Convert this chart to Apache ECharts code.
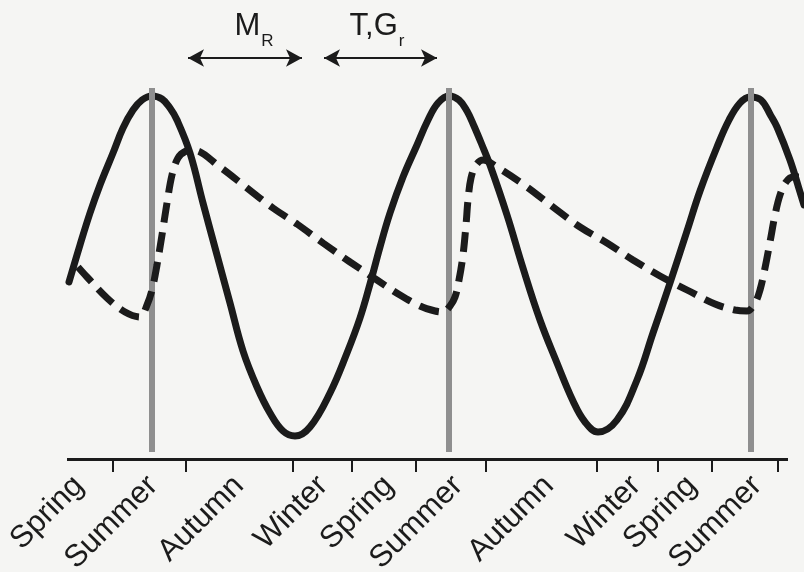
<!DOCTYPE html>
<html>
<head>
<meta charset="utf-8">
<script src="https://cdn.jsdelivr.net/npm/echarts@6/dist/echarts.min.js"></script>
<style>
  html, body { margin: 0; padding: 0; background: #f5f5f3; }
  #chart { width: 804px; height: 572px; }
</style>
</head>
<body>
<div id="chart"></div>
<script>
// x: months from the left end of the time axis, y: relative level (0-110)
const seasonLabels = ['Spring', 'Summer', 'Autumn', 'Winter', 'Spring', 'Summer', 'Autumn', 'Winter', 'Spring', 'Summer'];
const seasonLabelPos = [0.48, 3.44, 6.88, 10.24, 12.88, 15.64, 19.28, 22.76, 25.0, 27.6];
const seasonTicks = [1.84, 4.76, 9.04, 11.4, 13.96, 16.76, 21.2, 23.64, 25.8, 28.44];
const timeAxisEnd = 28.84;   // where the drawn time axis stops
const viewEnd = 29.48;       // right edge of the plotting area

// midsummer markers
const summerPeaks = [3.4, 15.28, 27.36];
const summerMarkLow = 1.75;
const summerMarkHigh = 92.75;

// solid curve
const solidCurve = [
  [0.08, 44.25], [0.52, 53.5], [0.92, 61.5], [1.32, 68.5], [1.84, 76.5], [2.24, 82.75],
  [2.64, 87.25], [3.0, 89.75], [3.4, 90.75], [3.8, 90.0], [4.12, 87.75], [4.4, 84.75],
  [4.92, 76.5], [5.44, 64.0], [6.0, 51.0], [6.52, 39.0], [7.04, 27.0], [7.6, 18.0],
  [8.12, 11.5], [8.64, 7.0], [9.12, 5.75], [9.72, 8.0], [10.52, 16.5], [11.2, 26.5],
  [11.72, 35.25], [12.12, 43.75], [12.52, 53.0], [12.92, 61.5], [13.44, 70.5], [14.0, 78.5],
  [14.44, 84.75], [14.84, 89.0], [15.28, 90.75], [15.68, 89.75], [16.0, 87.0], [16.28, 83.25],
  [16.6, 78.5], [16.92, 73.5], [17.6, 61.0], [18.24, 47.75], [18.92, 34.75], [19.6, 24.0],
  [20.24, 14.5], [20.72, 9.25], [21.24, 6.75], [22.0, 9.75], [22.8, 19.75], [23.44, 31.5],
  [24.12, 44.0], [24.8, 57.0], [25.32, 67.0], [26.0, 78.0], [26.48, 84.75], [26.92, 89.0],
  [27.32, 90.5], [27.76, 89.75], [28.16, 85.75], [28.4, 83.0], [28.92, 74.75], [29.32, 66.75],
  [29.48, 63.5]
];

// dashed curve
const dashedCurve = [
  [0.44, 48.0], [0.8, 45.5], [1.6, 40.25], [2.32, 36.75], [2.92, 35.5], [3.2, 38.5],
  [3.4, 42.25], [3.6, 48.5], [3.8, 56.0], [4.0, 64.0], [4.2, 71.0], [4.44, 75.25],
  [4.76, 77.0], [5.04, 77.25], [6.12, 73.0], [7.2, 67.75], [8.24, 62.75], [9.2, 58.75],
  [10.24, 54.0], [11.32, 49.25], [12.4, 44.75], [13.32, 41.0], [14.12, 38.25], [14.72, 37.0],
  [15.04, 36.75], [15.32, 38.25], [15.52, 40.5], [15.68, 44.75], [15.84, 51.0], [15.96, 58.5],
  [16.04, 64.75], [16.16, 70.25], [16.36, 73.5], [16.64, 74.75], [17.2, 73.0], [18.4, 68.0],
  [19.44, 63.0], [20.52, 58.0], [21.6, 54.0], [22.64, 49.75], [23.72, 45.75], [24.8, 42.25],
  [25.92, 38.75], [26.72, 37.25], [27.2, 37.0], [27.52, 39.0], [27.72, 42.25], [27.92, 47.75],
  [28.12, 54.25], [28.32, 61.0], [28.52, 66.0], [28.76, 69.25], [29.04, 70.5], [29.28, 70.5]
];

// period annotations
const spanNames = ['M_R', 'T,G_r'];
const spanRanges = [[4.84, 9.4], [10.28, 14.8]];
const spanLevel = 100.25;
const spanNamePos = [[7.48, 108.25], [12.4, 108.25]];

const FONT = 'Liberation Sans, Arial, Helvetica, sans-serif';
const INK = '#1b1b1b';

function nearestIndex(list, v) {
  let best = 0;
  for (let i = 1; i < list.length; i++) {
    if (Math.abs(list[i] - v) < Math.abs(list[best] - v)) best = i;
  }
  return best;
}

function richName(name) {
  const parts = name.split('_');
  return '{b|' + parts[0] + '}{s|' + parts[1] + '}';
}

const chart = echarts.init(document.getElementById('chart'), null, { renderer: 'canvas' });

chart.setOption({
  backgroundColor: '#f5f5f3',
  animation: false,
  grid: { left: 67, right: 0, top: 19, bottom: 113, outerBoundsMode: 'none', containLabel: false },
  xAxis: {
    type: 'value',
    min: 0,
    max: viewEnd,
    splitLine: { show: false },
    axisLine: { show: false },
    axisTick: {
      show: true,
      customValues: seasonTicks,
      length: 13,
      lineStyle: { color: INK, width: 2 }
    },
    axisLabel: {
      customValues: seasonLabelPos,
      rotate: 45,
      margin: 22,
      fontSize: 31,
      fontFamily: FONT,
      color: INK,
      formatter: function (value) {
        return seasonLabels[nearestIndex(seasonLabelPos, value)];
      }
    }
  },
  yAxis: { type: 'value', min: 0, max: 110, show: false },
  series: [
    {
      name: 'solid',
      type: 'line',
      z: 2,
      smooth: 0.4,
      showSymbol: false,
      symbol: 'none',
      data: solidCurve,
      lineStyle: { color: INK, width: 7, cap: 'round', join: 'round' }
    },
    {
      name: 'midsummer',
      type: 'line',
      data: [],
      markLine: {
        silent: true,
        z: 5,
        symbol: 'none',
        label: { show: false },
        lineStyle: { color: '#8f8f8f', width: 6, type: 'solid' },
        emphasis: { disabled: true },
        data: summerPeaks.map(function (t) {
          return [{ coord: [t, summerMarkLow] }, { coord: [t, summerMarkHigh] }];
        })
      }
    },
    {
      name: 'time axis',
      type: 'line',
      data: [],
      markLine: {
        silent: true,
        z: 5,
        symbol: 'none',
        label: { show: false },
        lineStyle: { color: INK, width: 3, type: 'solid' },
        emphasis: { disabled: true },
        data: [[{ coord: [0, 0] }, { coord: [timeAxisEnd, 0] }]]
      }
    },
    {
      name: 'dashed',
      type: 'line',
      z: 6,
      smooth: 0.35,
      showSymbol: false,
      symbol: 'none',
      data: dashedCurve,
      lineStyle: { color: INK, width: 7, type: [20, 10], cap: 'butt' }
    },
    {
      name: 'spans',
      type: 'scatter',
      z: 7,
      symbolSize: 0,
      silent: true,
      itemStyle: { opacity: 1 },
      data: spanNamePos,
      label: {
        show: true,
        position: 'inside',
        color: INK,
        opacity: 1,
        fontFamily: FONT,
        formatter: function (p) { return richName(spanNames[p.dataIndex]); },
        rich: {
          b: { fontSize: 31, lineHeight: 34, fontFamily: FONT, color: INK },
          s: { fontSize: 17, lineHeight: 17, padding: [30, 0, 0, 1], fontFamily: FONT, color: INK }
        }
      },
      markLine: {
        silent: true,
        z: 7,
        symbol: ['arrow', 'arrow'],
        symbolSize: [13, 16],
        label: { show: false },
        emphasis: { disabled: true },
        lineStyle: { color: INK, width: 2, type: 'solid', opacity: 1 },
        data: spanRanges.map(function (r) {
          return [{ coord: [r[0], spanLevel] }, { coord: [r[1], spanLevel] }];
        })
      }
    }
  ]
});
</script>
</body>
</html>
